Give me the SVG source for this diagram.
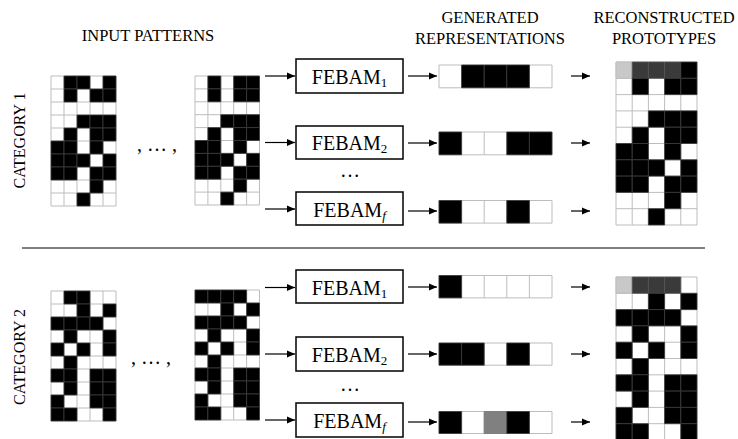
<svg xmlns="http://www.w3.org/2000/svg" xmlns:xlink="http://www.w3.org/1999/xlink" width="738" height="439" viewBox="0 0 738 439">
  <style>
    text { font-family: "Liberation Serif", "Times New Roman", serif; fill: #000; }
    .hdr { font-size: 16.5px; text-anchor: middle; }
    .cat { font-size: 16px; text-anchor: middle; }
    .dots { font-size: 20px; text-anchor: middle; }
    .lbl { font-size: 20px; text-anchor: middle; }
    .sub { font-size: 13px; }
    .bg { fill: #fff; }
    .gl { fill: none; stroke: #bdbdbd; stroke-width: 1; vector-effect: non-scaling-stroke; }
    .b { fill: #000; stroke: #3c3c3c; stroke-width: 0.8; vector-effect: non-scaling-stroke; }
    .dk { fill: #3a3a3a; stroke: #555; stroke-width: 0.8; vector-effect: non-scaling-stroke; }
    .lt { fill: #c8c8c8; stroke: #bdbdbd; stroke-width: 0.8; vector-effect: non-scaling-stroke; }
    .md { fill: #808080; stroke: #777; stroke-width: 0.8; vector-effect: non-scaling-stroke; }
    .box { fill: #fff; stroke: #000; stroke-width: 1.5; }
    .arr { fill: none; stroke: #000; stroke-width: 1.2; marker-end: url(#head); }
    .sep { stroke: #000; stroke-width: 1; }
  </style>
  <defs>
    <marker id="head" markerUnits="userSpaceOnUse" markerWidth="9" markerHeight="8" refX="8" refY="4" orient="auto">
      <path d="M0,0.5 L8,4 L0,7.5 z" fill="#000"/>
    </marker>
    <!-- 5x10 grid lines, one unit per cell -->
    <g id="grid10">
      <rect class="bg" width="5" height="10"/>
      <path class="gl" d="M0,0H5M0,1H5M0,2H5M0,3H5M0,4H5M0,5H5M0,6H5M0,7H5M0,8H5M0,9H5M0,10H5M0,0V10M1,0V10M2,0V10M3,0V10M4,0V10M5,0V10"/>
    </g>
    <!-- 5x1 strip -->
    <g id="strip">
      <rect class="bg" width="5" height="1"/>
      <path class="gl" d="M0,0H5M0,1H5M0,0V1M1,0V1M2,0V1M3,0V1M4,0V1M5,0V1"/>
    </g>
    <!-- rows 1..9 shared by category 1 patterns -->
    <g id="c1rows">
      <rect class="b" x="1" y="1" width="1" height="1"/><rect class="b" x="3" y="1" width="1" height="1"/><rect class="b" x="4" y="1" width="1" height="1"/>
      <rect class="b" x="2" y="3" width="1" height="1"/><rect class="b" x="3" y="3" width="1" height="1"/><rect class="b" x="4" y="3" width="1" height="1"/>
      <rect class="b" x="1" y="4" width="1" height="1"/><rect class="b" x="3" y="4" width="1" height="1"/><rect class="b" x="4" y="4" width="1" height="1"/>
      <rect class="b" x="0" y="5" width="1" height="1"/><rect class="b" x="1" y="5" width="1" height="1"/><rect class="b" x="3" y="5" width="1" height="1"/>
      <rect class="b" x="0" y="6" width="1" height="1"/><rect class="b" x="1" y="6" width="1" height="1"/><rect class="b" x="2" y="6" width="1" height="1"/><rect class="b" x="4" y="6" width="1" height="1"/>
      <rect class="b" x="0" y="7" width="1" height="1"/><rect class="b" x="1" y="7" width="1" height="1"/><rect class="b" x="3" y="7" width="1" height="1"/><rect class="b" x="4" y="7" width="1" height="1"/>
      <rect class="b" x="3" y="8" width="1" height="1"/>
      <rect class="b" x="2" y="9" width="1" height="1"/>
    </g>
    <!-- rows 1..9 shared by category 2 patterns -->
    <g id="c2rows">
      <rect class="b" x="2" y="1" width="1" height="1"/><rect class="b" x="4" y="1" width="1" height="1"/>
      <rect class="b" x="0" y="2" width="1" height="1"/><rect class="b" x="1" y="2" width="1" height="1"/><rect class="b" x="2" y="2" width="1" height="1"/><rect class="b" x="3" y="2" width="1" height="1"/>
      <rect class="b" x="1" y="3" width="1" height="1"/><rect class="b" x="4" y="3" width="1" height="1"/>
      <rect class="b" x="0" y="4" width="1" height="1"/><rect class="b" x="2" y="4" width="1" height="1"/><rect class="b" x="4" y="4" width="1" height="1"/>
      <rect class="b" x="1" y="5" width="1" height="1"/>
      <rect class="b" x="0" y="6" width="1" height="1"/><rect class="b" x="1" y="6" width="1" height="1"/><rect class="b" x="3" y="6" width="1" height="1"/><rect class="b" x="4" y="6" width="1" height="1"/>
      <rect class="b" x="1" y="7" width="1" height="1"/><rect class="b" x="3" y="7" width="1" height="1"/><rect class="b" x="4" y="7" width="1" height="1"/>
      <rect class="b" x="0" y="8" width="1" height="1"/><rect class="b" x="3" y="8" width="1" height="1"/><rect class="b" x="4" y="8" width="1" height="1"/>
      <rect class="b" x="0" y="9" width="1" height="1"/><rect class="b" x="1" y="9" width="1" height="1"/><rect class="b" x="4" y="9" width="1" height="1"/>
    </g>
  </defs>

  <!-- column headings -->
  <g id="headings">
    <text class="hdr" x="148" y="41">INPUT PATTERNS</text>
    <text class="hdr" x="490" y="23">GENERATED</text>
    <text class="hdr" x="490" y="44">REPRESENTATIONS</text>
    <text class="hdr" x="664" y="23">RECONSTRUCTED</text>
    <text class="hdr" x="664" y="44">PROTOTYPES</text>
  </g>

  <!-- category labels -->
  <g id="cat1-label"><text class="cat" transform="translate(25,140.5) rotate(-90)">CATEGORY 1</text></g>
  <g id="cat2-label"><text class="cat" transform="translate(25,357) rotate(-90)">CATEGORY 2</text></g>

  <line id="separator" class="sep" x1="22" y1="248" x2="705" y2="248"/>

  <!-- ===== Category 1 ===== -->
  <g id="c1-input-a" transform="translate(51,76) scale(13)">
    <use xlink:href="#grid10"/>
    <rect class="b" x="1" y="0" width="1" height="1"/><rect class="b" x="2" y="0" width="1" height="1"/><rect class="b" x="4" y="0" width="1" height="1"/>
    <use xlink:href="#c1rows"/>
  </g>
  <g id="c1-ellipsis"><text class="dots" x="157" y="151">, … ,</text></g>
  <g id="c1-input-b" transform="translate(195,76) scale(12.9)">
    <use xlink:href="#grid10"/>
    <rect class="b" x="1" y="0" width="1" height="1"/><rect class="b" x="3" y="0" width="1" height="1"/><rect class="b" x="4" y="0" width="1" height="1"/>
    <use xlink:href="#c1rows"/>
  </g>

  <g id="c1-febam1">
    <rect class="box" x="296" y="59" width="107" height="34"/>
    <text class="lbl" x="349.5" y="83.5">FEBAM<tspan class="sub" dy="3">1</tspan></text>
  </g>
  <g id="c1-febam2">
    <rect class="box" x="296" y="126" width="107" height="33"/>
    <text class="lbl" x="349.5" y="150">FEBAM<tspan class="sub" dy="3">2</tspan></text>
  </g>
  <g id="c1-more"><text class="dots" x="350" y="177">…</text></g>
  <g id="c1-febamf">
    <rect class="box" x="296" y="192" width="107" height="33"/>
    <text class="lbl" x="349.5" y="216.5">FEBAM<tspan class="sub" dy="3" font-style="italic">f</tspan></text>
  </g>

  <g id="c1-rep1" transform="translate(439,65) scale(22.6,22.8)">
    <use xlink:href="#strip"/>
    <rect class="b" x="1" y="0" width="1" height="1"/><rect class="b" x="2" y="0" width="1" height="1"/><rect class="b" x="3" y="0" width="1" height="1"/>
  </g>
  <g id="c1-rep2" transform="translate(439,132) scale(22.6,22.8)">
    <use xlink:href="#strip"/>
    <rect class="b" x="0" y="0" width="1" height="1"/><rect class="b" x="3" y="0" width="1" height="1"/><rect class="b" x="4" y="0" width="1" height="1"/>
  </g>
  <g id="c1-repf" transform="translate(439,200.5) scale(22.6,22.6)">
    <use xlink:href="#strip"/>
    <rect class="b" x="0" y="0" width="1" height="1"/><rect class="b" x="3" y="0" width="1" height="1"/>
  </g>

  <g id="c1-prototype" transform="translate(616,62) scale(16.2,16.3)">
    <use xlink:href="#grid10"/>
    <rect class="lt" x="0" y="0" width="1" height="1"/>
    <rect class="dk" x="1" y="0" width="1" height="1"/><rect class="dk" x="2" y="0" width="1" height="1"/><rect class="dk" x="3" y="0" width="1" height="1"/>
    <rect class="b" x="4" y="0" width="1" height="1"/>
    <use xlink:href="#c1rows"/>
  </g>

  <!-- ===== Category 2 ===== -->
  <g id="c2-input-a" transform="translate(51,291) scale(13)">
    <use xlink:href="#grid10"/>
    <rect class="b" x="1" y="0" width="1" height="1"/><rect class="b" x="2" y="0" width="1" height="1"/>
    <use xlink:href="#c2rows"/>
  </g>
  <g id="c2-ellipsis"><text class="dots" x="151" y="364">, … ,</text></g>
  <g id="c2-input-b" transform="translate(195,290) scale(12.9,13)">
    <use xlink:href="#grid10"/>
    <rect class="b" x="0" y="0" width="1" height="1"/><rect class="b" x="1" y="0" width="1" height="1"/><rect class="b" x="2" y="0" width="1" height="1"/><rect class="b" x="3" y="0" width="1" height="1"/>
    <use xlink:href="#c2rows"/>
  </g>

  <g id="c2-febam1">
    <rect class="box" x="296" y="270" width="107" height="33"/>
    <text class="lbl" x="349.5" y="294.5">FEBAM<tspan class="sub" dy="3">1</tspan></text>
  </g>
  <g id="c2-febam2">
    <rect class="box" x="296" y="337" width="107" height="34"/>
    <text class="lbl" x="349.5" y="361.5">FEBAM<tspan class="sub" dy="3">2</tspan></text>
  </g>
  <g id="c2-more"><text class="dots" x="350" y="391">…</text></g>
  <g id="c2-febamf">
    <rect class="box" x="296" y="403" width="107" height="34"/>
    <text class="lbl" x="349.5" y="427.5">FEBAM<tspan class="sub" dy="3" font-style="italic">f</tspan></text>
  </g>

  <g id="c2-rep1" transform="translate(439,275.5) scale(22.6,22.4)">
    <use xlink:href="#strip"/>
    <rect class="b" x="0" y="0" width="1" height="1"/>
  </g>
  <g id="c2-rep2" transform="translate(439,343) scale(22.6,22.2)">
    <use xlink:href="#strip"/>
    <rect class="b" x="0" y="0" width="1" height="1"/><rect class="b" x="1" y="0" width="1" height="1"/><rect class="b" x="3" y="0" width="1" height="1"/>
  </g>
  <g id="c2-repf" transform="translate(439,411.5) scale(22.6,22)">
    <use xlink:href="#strip"/>
    <rect class="b" x="0" y="0" width="1" height="1"/><rect class="md" x="2" y="0" width="1" height="1"/><rect class="b" x="3" y="0" width="1" height="1"/>
  </g>

  <g id="c2-prototype" transform="translate(616,277) scale(16.2,16.3)">
    <use xlink:href="#grid10"/>
    <rect class="lt" x="0" y="0" width="1" height="1"/>
    <rect class="dk" x="1" y="0" width="1" height="1"/><rect class="dk" x="2" y="0" width="1" height="1"/><rect class="dk" x="3" y="0" width="1" height="1"/>
    <use xlink:href="#c2rows"/>
  </g>

  <!-- connectors -->
  <g id="connectors">
    <!-- into the FEBAM modules -->
    <line class="arr" x1="265" y1="76" x2="295" y2="76"/>
    <line class="arr" x1="265" y1="142.5" x2="295" y2="142.5"/>
    <line class="arr" x1="265" y1="209" x2="295" y2="209"/>
    <line class="arr" x1="265" y1="287.5" x2="295" y2="287.5"/>
    <line class="arr" x1="265" y1="354" x2="295" y2="354"/>
    <line class="arr" x1="265" y1="420" x2="295" y2="420"/>
    <!-- FEBAM to representation -->
    <line class="arr" x1="408" y1="76" x2="437" y2="76"/>
    <line class="arr" x1="408" y1="143" x2="437" y2="143"/>
    <line class="arr" x1="408" y1="211" x2="437" y2="211"/>
    <line class="arr" x1="408" y1="287" x2="437" y2="287"/>
    <line class="arr" x1="408" y1="354" x2="437" y2="354"/>
    <line class="arr" x1="408" y1="422" x2="437" y2="422"/>
    <!-- representation to prototype -->
    <line class="arr" x1="571" y1="76" x2="590" y2="76"/>
    <line class="arr" x1="571" y1="143" x2="590" y2="143"/>
    <line class="arr" x1="571" y1="211" x2="590" y2="211"/>
    <line class="arr" x1="571" y1="287" x2="590" y2="287"/>
    <line class="arr" x1="571" y1="354" x2="590" y2="354"/>
    <line class="arr" x1="571" y1="422" x2="590" y2="422"/>
  </g>
</svg>
